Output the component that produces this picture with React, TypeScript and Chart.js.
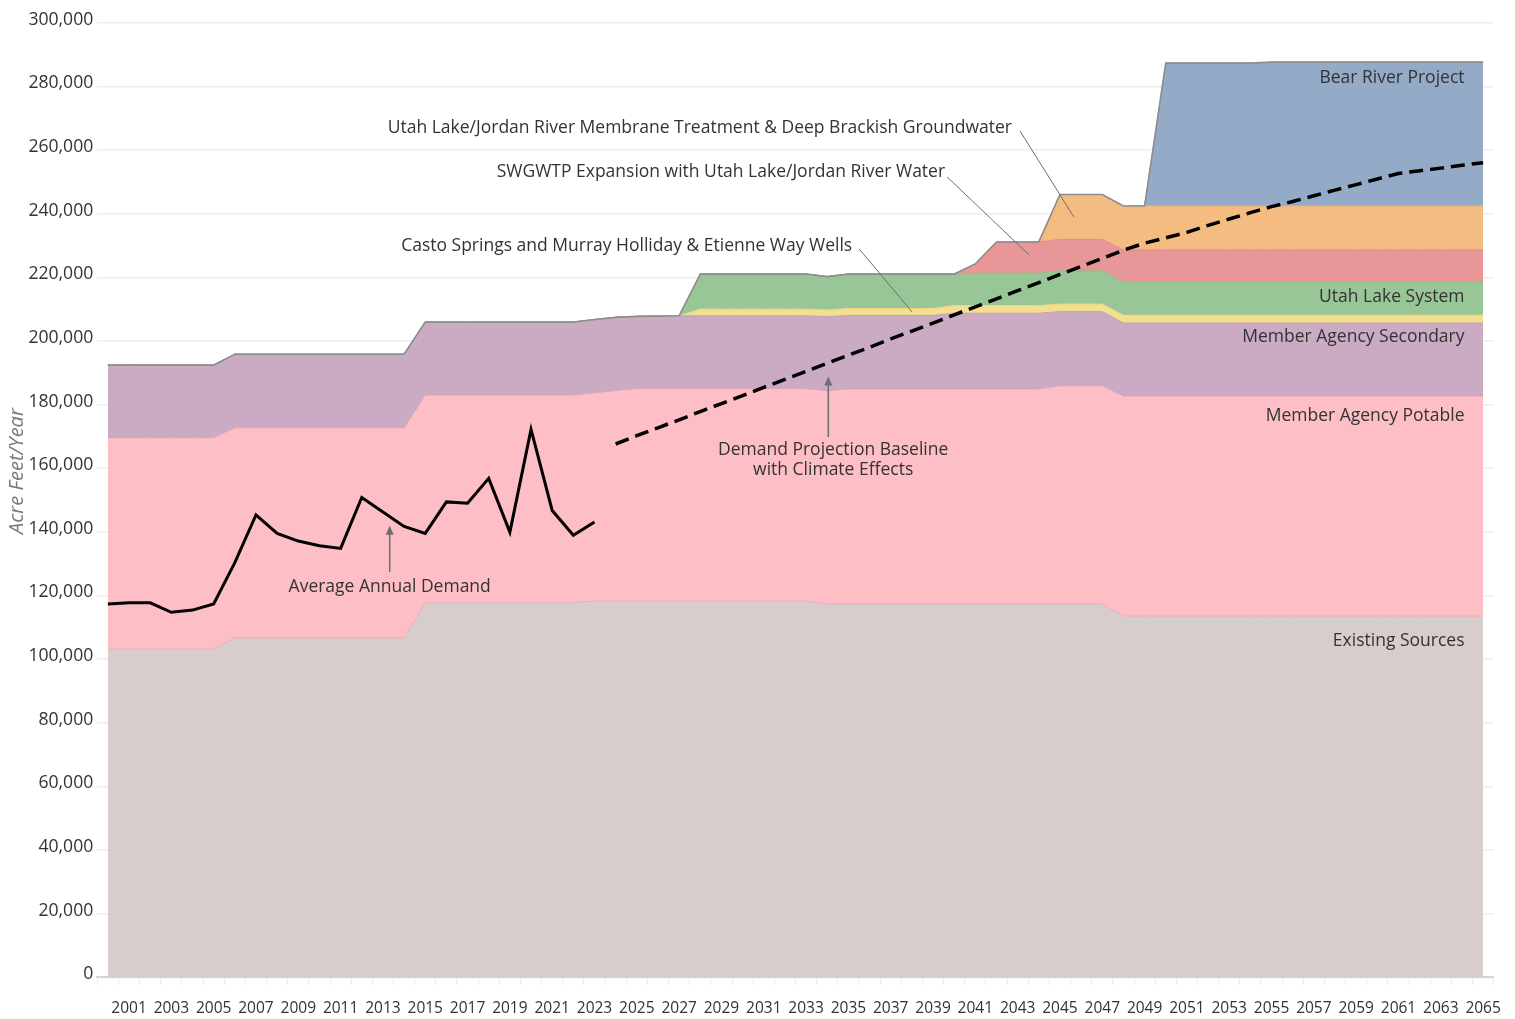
import { useEffect, useRef } from 'react';
import { Chart, registerables } from 'chart.js';

Chart.register(...registerables);

// ---------- data ----------
const YEARS = [
  '2000', '2001', '2002', '2003', '2004', '2005', '2006', '2007', '2008', '2009',
  '2010', '2011', '2012', '2013', '2014', '2015', '2016', '2017', '2018', '2019',
  '2020', '2021', '2022', '2023', '2024', '2025', '2026', '2027', '2028', '2029',
  '2030', '2031', '2032', '2033', '2034', '2035', '2036', '2037', '2038', '2039',
  '2040', '2041', '2042', '2043', '2044', '2045', '2046', '2047', '2048', '2049',
  '2050', '2051', '2052', '2053', '2054', '2055', '2056', '2057', '2058', '2059',
  '2060', '2061', '2062', '2063', '2064', '2065',
];

// supply layers (acre-feet/year), one value per year 2000..2065
const existingSources = [
  103100, 103100, 103100, 103100, 103100, 103100,
  106700, 106700, 106700, 106700, 106700, 106700, 106700, 106700, 106700,
  117700, 117700, 117700, 117700, 117700, 117700, 117700, 117700,
  118300, 118300, 118300, 118300, 118300, 118300, 118300, 118300, 118300, 118300, 118300,
  117300, 117300, 117300, 117300, 117300, 117300, 117300, 117300, 117300, 117300, 117300, 117300, 117300, 117300,
  113500, 113500, 113500, 113500, 113500, 113500, 113500, 113500, 113500, 113500, 113500, 113500, 113500, 113500, 113500, 113500, 113500, 113500,
];
const memberPotable = [
  66500, 66500, 66500, 66500, 66500, 66500,
  66000, 66000, 66000, 66000, 66000, 66000, 66000, 66000, 66000,
  65300, 65300, 65300, 65300, 65300, 65300, 65300, 65300,
  65400, 66100,
  66700, 66700, 66700, 66700, 66700, 66700, 66700, 66700, 66700,
  67000,
  67600, 67600, 67600, 67600, 67600, 67600, 67600, 67600, 67600, 67600,
  68600, 68600, 68600,
  69200, 69200, 69200, 69200, 69200, 69200, 69200, 69200, 69200, 69200, 69200, 69200, 69200, 69200, 69200, 69200, 69200, 69200,
];
const memberSecondary = [
  22800, 22800, 22800, 22800, 22800, 22800,
  23100, 23100, 23100, 23100, 23100, 23100, 23100, 23100, 23100,
  22900, 22900, 22900, 22900, 22900, 22900, 22900, 22900,
  23000, 23000, 22700, 22800,
  22900, 22900, 22900, 22900, 22900, 22900, 22900,
  23300,
  23100, 23100, 23100, 23100, 23100,
  23800, 23800, 23800, 23800, 23800,
  23300, 23300, 23300,
  22900, 22900, 22900, 22900, 22900, 22900, 22900, 22900, 22900, 22900, 22900, 22900, 22900, 22900, 22900, 22900, 22900, 22900,
];
const castoSprings = [
  0, 0, 0, 0, 0, 0, 0, 0, 0, 0, 0, 0, 0, 0, 0, 0, 0, 0, 0, 0, 0, 0, 0, 0, 0, 0, 0, 0,
  2100, 2100, 2100, 2100, 2100, 2100,
  2100,
  2200, 2200, 2200, 2200, 2200,
  2400, 2400, 2400, 2400, 2400,
  2400, 2400, 2400,
  2500, 2500, 2500, 2500, 2500, 2500, 2500, 2500, 2500, 2500, 2500, 2500, 2500, 2500, 2500, 2500, 2500, 2500,
];
const utahLakeSystem = [
  0, 0, 0, 0, 0, 0, 0, 0, 0, 0, 0, 0, 0, 0, 0, 0, 0, 0, 0, 0, 0, 0, 0, 0, 0, 0, 0, 0,
  11000, 11000, 11000, 11000, 11000, 11000,
  10500,
  10800, 10800, 10800, 10800, 10800,
  9900,
  10200, 10200, 10200, 10200,
  10400, 10400, 10400,
  10400, 10400, 10400, 10400, 10400, 10400, 10400, 10400, 10400, 10400, 10400, 10400, 10400, 10400, 10400, 10400, 10400, 10400,
];
const swgwtpExpansion = [
  0, 0, 0, 0, 0, 0, 0, 0, 0, 0, 0, 0, 0, 0, 0, 0, 0, 0, 0, 0,
  0, 0, 0, 0, 0, 0, 0, 0, 0, 0, 0, 0, 0, 0, 0, 0, 0, 0, 0, 0, 0,
  2900,
  9800, 9800, 9800,
  9900, 9900, 9900,
  10100, 10100, 10100, 10100, 10100, 10100, 10100, 10100, 10100, 10100, 10100, 10100, 10100, 10100, 10100, 10100, 10100, 10100,
];
const membraneTreatment = [
  0, 0, 0, 0, 0, 0, 0, 0, 0, 0, 0, 0, 0, 0, 0, 0, 0, 0, 0, 0,
  0, 0, 0, 0, 0, 0, 0, 0, 0, 0, 0, 0, 0, 0, 0, 0, 0, 0, 0, 0,
  0, 0, 0, 0, 0,
  14100, 14100, 14100,
  13800, 13800, 13800, 13800, 13800, 13800, 13800, 13800, 13800, 13800, 13800, 13800, 13800, 13800, 13800, 13800, 13800, 13800,
];
const bearRiverProject = [
  0, 0, 0, 0, 0, 0, 0, 0, 0, 0, 0, 0, 0, 0, 0, 0, 0, 0, 0, 0,
  0, 0, 0, 0, 0, 0, 0, 0, 0, 0, 0, 0, 0, 0, 0, 0, 0, 0, 0, 0,
  0, 0, 0, 0, 0, 0, 0, 0, 0, 0,
  44900, 44900, 44900, 44900, 44900,
  45200, 45200, 45200, 45200, 45200, 45200, 45200, 45200, 45200, 45200, 45200,
];

// average annual demand, 2000..2023
const averageAnnualDemand = [
  117300, 117700, 117700, 114700, 115400, 117300, 130300, 145300, 139500, 137100,
  135600, 134800, 150800, 146200, 141700, 139500, 149400, 149000, 156800, 139900,
  172200, 146700, 138900, 143100,
];
// demand projection baseline with climate effects, 2024..2065
const demandProjection = [
  167600, 170200, 172700, 175200, 177800, 180300, 182800, 185400, 187900, 190400,
  193000, 195500, 198000, 200600, 203100, 205600, 208200, 210700, 213200, 215800,
  218300, 220900, 223400, 225900, 228500, 230700, 232400, 234100, 236300, 238300,
  240300, 242200, 243800, 245600, 247400, 249100, 250900, 252600, 253500, 254300,
  255200, 256000,
];

const Y_TICK_STEP = 20000;
const Y_MAX = 300000;
const Y_TITLE = 'Acre Feet/Year';

// ---------- annotations (anchored in data space: year, acre-feet) ----------
const LAYER_LABELS = [
  { text: 'Bear River Project', year: 2064.12, value: 282600 },
  { text: 'Utah Lake System', year: 2064.12, value: 213800 },
  { text: 'Member Agency Secondary', year: 2064.12, value: 201200 },
  { text: 'Member Agency Potable', year: 2064.12, value: 176500 },
  { text: 'Existing Sources', year: 2064.12, value: 105700 },
];
const CALLOUTS = [
  {
    text: 'Utah Lake/Jordan River Membrane Treatment & Deep Brackish Groundwater',
    year: 2042.73, value: 266900,
    from: [2043.11, 266000], to: [2045.66, 238900],
  },
  {
    text: 'SWGWTP Expansion with Utah Lake/Jordan River Water',
    year: 2039.57, value: 253100,
    from: [2039.67, 251500], to: [2043.54, 227000],
  },
  {
    text: 'Casto Springs and Murray Holliday & Etienne Way Wells',
    year: 2035.18, value: 229800,
    from: [2035.51, 228900], to: [2038.01, 209100],
  },
];
const ARROW_NOTES = [
  {
    lines: ['Demand Projection Baseline', 'with Climate Effects'],
    year: 2034.28, values: [165700, 159400],
    arrowYear: 2034.05, arrowFrom: 169800, arrowTo: 188800,
  },
  {
    lines: ['Average Annual Demand'],
    year: 2013.32, values: [122700],
    arrowYear: 2013.32, arrowFrom: 127400, arrowTo: 141900,
  },
];

const FONT = '"Open Sans", "Noto Sans", sans-serif';

const notesPlugin = {
  id: 'notes',
  afterDatasetsDraw(chart: any) {
    const { ctx, scales } = chart;
    const xs = scales.x;
    const ys = scales.y;
    const x0 = xs.getPixelForValue(0);
    const step = xs.getPixelForValue(1) - x0;
    const year0 = Number(YEARS[0]);
    const px = (yr: number) => x0 + (yr - year0) * step;
    const py = (v: number) => ys.getPixelForValue(v);

    ctx.save();
    ctx.font = `17.5px ${FONT}`;
    ctx.fillStyle = '#333';
    ctx.textBaseline = 'middle';

    ctx.textAlign = 'right';
    for (const l of LAYER_LABELS) ctx.fillText(l.text, px(l.year), py(l.value));

    ctx.strokeStyle = '#6e6e6e';
    ctx.lineWidth = 1;
    for (const c of CALLOUTS) {
      ctx.textAlign = 'right';
      ctx.fillText(c.text, px(c.year), py(c.value));
      ctx.beginPath();
      ctx.moveTo(px(c.from[0]), py(c.from[1]));
      ctx.lineTo(px(c.to[0]), py(c.to[1]));
      ctx.stroke();
    }

    ctx.textAlign = 'center';
    for (const a of ARROW_NOTES) {
      a.lines.forEach((t, i) => ctx.fillText(t, px(a.year), py(a.values[i])));
      const ax = px(a.arrowYear);
      const ay1 = py(a.arrowFrom);
      const ay2 = py(a.arrowTo);
      ctx.strokeStyle = '#6e6e6e';
      ctx.lineWidth = 1.5;
      ctx.beginPath();
      ctx.moveTo(ax, ay1);
      ctx.lineTo(ax, ay2 + 2);
      ctx.stroke();
      ctx.fillStyle = '#6e6e6e';
      ctx.beginPath();
      ctx.moveTo(ax, ay2);
      ctx.lineTo(ax - 4, ay2 + 9);
      ctx.lineTo(ax + 4, ay2 + 9);
      ctx.closePath();
      ctx.fill();
      ctx.fillStyle = '#333';
    }

    // y-axis title
    ctx.save();
    ctx.translate(17, py(159100));
    ctx.rotate(-Math.PI / 2);
    ctx.font = `italic 20px ${FONT}`;
    ctx.fillStyle = '#7a7a7a';
    ctx.textAlign = 'center';
    ctx.textBaseline = 'middle';
    ctx.fillText(Y_TITLE, 0, 0);
    ctx.restore();

    ctx.restore();
  },
};

export default function App() {
  const ref = useRef<HTMLCanvasElement>(null);

  useEffect(() => {
    const layers = [
      { label: 'Existing Sources', data: existingSources, bg: '#d6cdcc', bd: '#e8aeb4' },
      { label: 'Member Agency Potable', data: memberPotable, bg: '#fdbec6', bd: '#d9a3b8' },
      { label: 'Member Agency Secondary', data: memberSecondary, bg: '#cbabc4', bd: '#bf9fba' },
      { label: 'Casto Springs and Murray Holliday & Etienne Way Wells', data: castoSprings, bg: '#f2df8f', bd: '#ecd47c' },
      { label: 'Utah Lake System', data: utahLakeSystem, bg: '#98c696', bd: '#8dbd8b' },
      { label: 'SWGWTP Expansion with Utah Lake/Jordan River Water', data: swgwtpExpansion, bg: '#e99699', bd: '#e08b8f' },
      { label: 'Utah Lake/Jordan River Membrane Treatment & Deep Brackish Groundwater', data: membraneTreatment, bg: '#f4bc80', bd: '#eeb374' },
      { label: 'Bear River Project', data: bearRiverProject, bg: '#93abc6', bd: '#8aa3bf' },
    ];
    const totals = YEARS.map((_, i) => layers.reduce((s, l) => s + l.data[i], 0));
    const histPadded = YEARS.map((_, i) => (i < averageAnnualDemand.length ? averageAnnualDemand[i] : null));
    const projStart = YEARS.length - demandProjection.length;
    const projPadded = YEARS.map((_, i) => (i >= projStart ? demandProjection[i - projStart] : null));

    const datasets: any[] = layers.map((l, i) => ({
      type: 'line',
      label: l.label,
      data: l.data,
      stack: 'supply',
      backgroundColor: l.bg,
      borderColor: l.bd,
      borderWidth: 1,
      fill: i === 0 ? 'origin' : '-1',
      pointRadius: 0,
      tension: 0,
      order: 5,
    }));
    datasets.push({
      type: 'line', label: 'outline', data: totals, stack: 'outline',
      borderColor: '#8e8e8e', borderWidth: 1.6, fill: false, pointRadius: 0, tension: 0, order: 2,
    });
    datasets.push({
      type: 'line', label: 'Average Annual Demand', data: histPadded, stack: 'hist',
      borderColor: '#000', borderWidth: 3, fill: false, pointRadius: 0, tension: 0, order: 1,
      borderJoinStyle: 'miter',
    });
    datasets.push({
      type: 'line', label: 'Demand Projection Baseline with Climate Effects', data: projPadded, stack: 'proj',
      borderColor: '#000', borderWidth: 3.5, borderDash: [14, 7], fill: false, pointRadius: 0, tension: 0, order: 1,
    });

    const chart = new Chart(ref.current as HTMLCanvasElement, {
      type: 'line',
      data: { labels: YEARS, datasets },
      plugins: [notesPlugin],
      options: {
        responsive: false,
        animation: false,
        devicePixelRatio: 1,
        layout: { padding: { top: 22.7, right: 20, left: 0, bottom: 0 } },
        plugins: { legend: { display: false }, tooltip: { enabled: false } },
        elements: { line: { borderCapStyle: 'butt' } },
        scales: {
          x: {
            type: 'category',
            offset: true,
            grid: {
              display: true, offset: true, drawOnChartArea: false, drawTicks: true,
              tickLength: 8, tickColor: '#ececec',
            },
            border: { display: true, color: '#d6d6d6', width: 2 },
            ticks: {
              autoSkip: false, maxRotation: 0, minRotation: 0, padding: 14,
              color: '#333', font: { family: FONT, size: 15.5 },
              callback: (_v: any, idx: number) => (Number(YEARS[idx]) % 2 === 1 ? YEARS[idx] : ''),
            },
            afterFit: (s: any) => { s.height = 41.7; },
          },
          y: {
            stacked: true,
            min: 0,
            max: Y_MAX,
            grid: { color: '#eeeeee', lineWidth: 1.5, drawTicks: false },
            border: { display: false },
            ticks: {
              stepSize: Y_TICK_STEP, padding: 4, labelOffset: -3,
              color: '#333', font: { family: FONT, size: 17.6 },
              callback: (v: any) => Number(v).toLocaleString('en-US'),
            },
            title: { display: false },
            afterFit: (s: any) => { s.width = 97.3; },
          },
        },
      } as any,
    });
    return () => chart.destroy();
  }, []);

  return (
    <div style={{ position: 'fixed', left: 0, top: 0, width: 1515, height: 1019, background: '#fff' }}>
      <canvas ref={ref} width={1515} height={1019} style={{ display: 'block' }} />
    </div>
  );
}
